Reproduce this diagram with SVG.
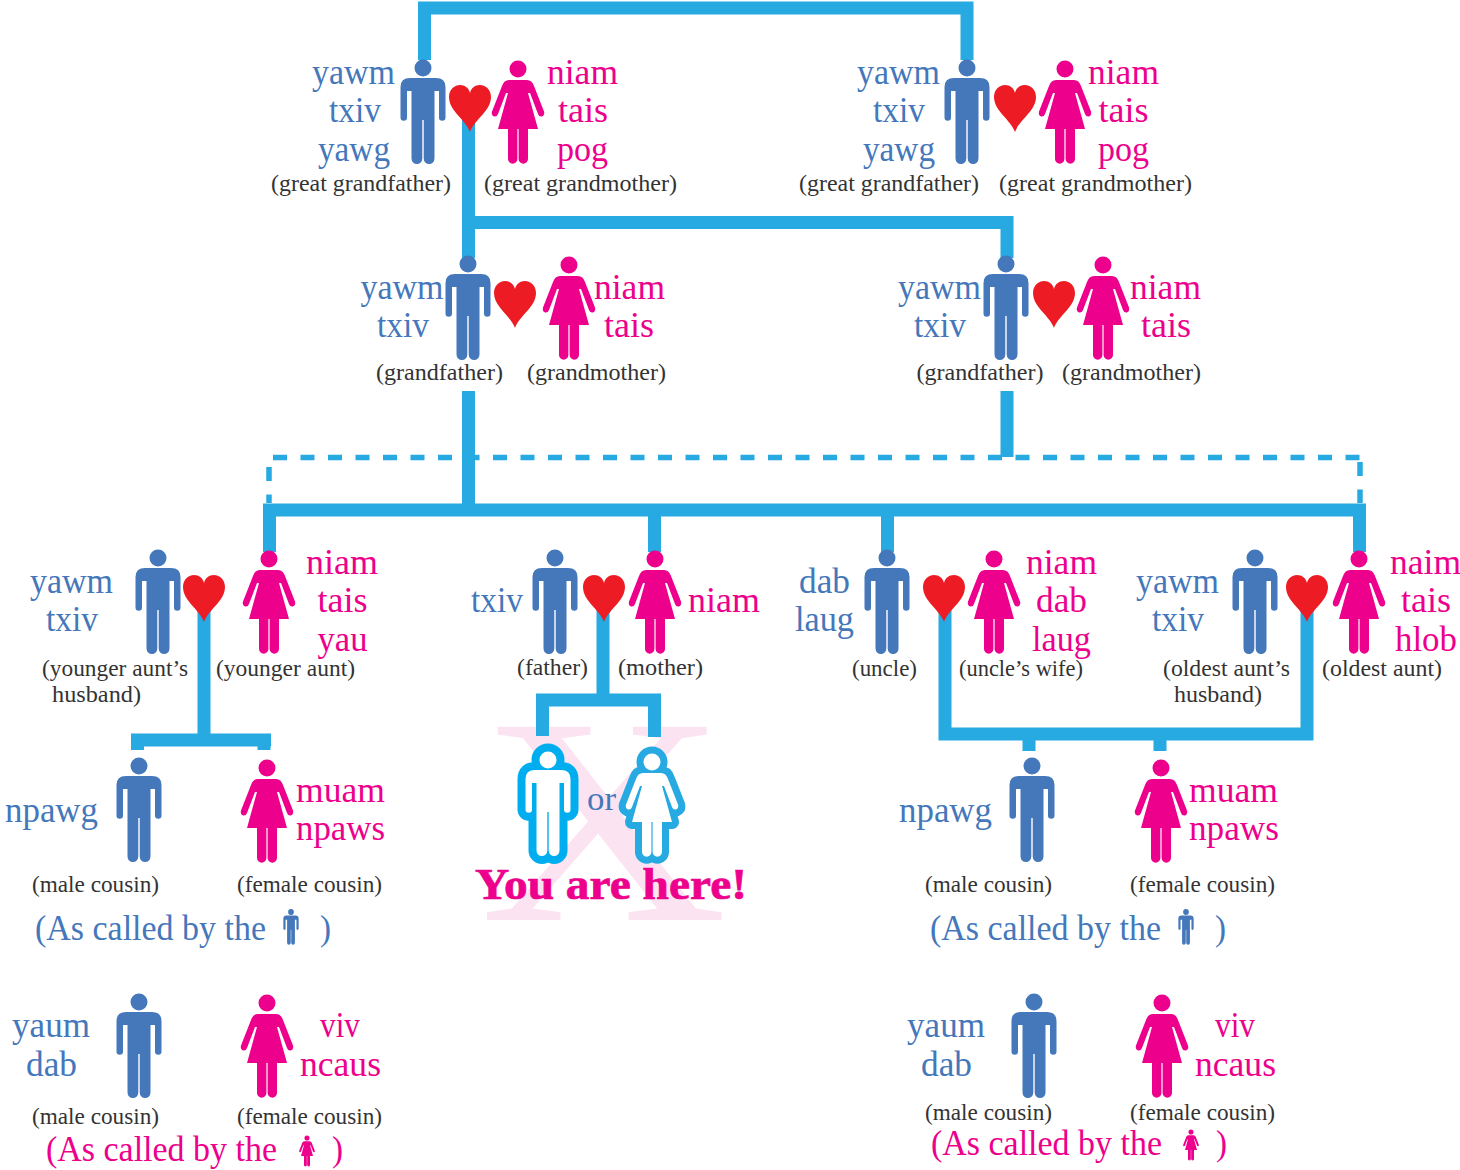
<svg xmlns="http://www.w3.org/2000/svg" width="1460" height="1170" viewBox="0 0 1460 1170">
<style>
text{font-family:"Liberation Serif","Times New Roman",serif;text-anchor:middle}
.b{fill:#4577bb;font-size:35px}
.p{fill:#ec008c;font-size:35px}
.c{fill:#333;font-size:23px}
.l{fill:none;stroke:#27aae1;stroke-width:13}
.d{fill:none;stroke:#27aae1;stroke-width:5.5;stroke-dasharray:14 13.500}
.m{fill:#4577bb}.w{fill:#ec008c}.h{fill:#ed1c24}
</style>
<defs>
<path id="man" d="M-8.500,0a8.500,8.500 0 1 0 17,0a8.500,8.500 0 1 0 -17,0ZM-13,10H13Q22.500,10 22.500,19V49.500a3.200,3.200 0 0 1 -6.500,0V23H11.500V90.600a5.400,5.400 0 0 1 -10.800,0V52H-0.700V90.600a5.400,5.400 0 0 1 -10.800,0V23H-16V49.500a3.200,3.200 0 0 1 -6.500,0V19Q-22.500,10 -13,10Z"/>
<path id="woman" d="M-8.500,0a8.500,8.500 0 1 0 17,0a8.500,8.500 0 1 0 -17,0ZM-9,11H9Q14,11 16,17L26,42.500Q27,46 24,47.500Q21,48 20,45L12,24L10,24L20,60H10V90a4.700,4.700 0 0 1 -9.400,0V60H-0.600V90a4.700,4.700 0 0 1 -9.400,0V60H-20L-10,24L-12,24L-20,45Q-21,48 -24,47.500Q-27,46 -26,42.500L-16,17Q-14,11 -9,11Z"/>
<path id="heart" d="M0,47C-4,35 -21,26 -21,12C-21,4 -15,0 -10,0C-5,0 -1,3 0,8C1,3 5,0 10,0C15,0 21,4 21,12C21,26 4,35 0,47Z"/>
</defs>
<text id="x-mark" transform="translate(603.500 920) scale(1.165 1)" font-size="295" fill="#fbe3f2">X</text>
<g id="connectors">
<path class="l" d="M424.500,60V8H967V60"/>
<path class="l" d="M468.500,110V222.500H1007V258M468.500,222V258"/>
<path class="l" d="M468.500,391V510M1007,391V457"/>
<path class="l" d="M263,510H1366M269.500,510V552M1359.500,510V552M654.500,510V552M887.500,510V552"/>
<path class="d" d="M273,457.500H1360"/>
<path class="d" d="M269,467V503M1360,462V503"/>
<path class="l" d="M204,600V740M131,740H271M137.500,740V750M264,740V750"/>
<path class="l" d="M603,600V700M536,700H661M542.500,700V736M654.500,700V737"/>
<path class="l" d="M945,600V734H1307V600M1029,734V751M1160,734V751"/>
</g>
<g id="n-ggf1"><use href="#man" class="m" x="423" y="68"/><text class="b" x="353.500" y="84" textLength="83" lengthAdjust="spacingAndGlyphs">yawm</text><text class="b" x="355" y="122" textLength="52" lengthAdjust="spacingAndGlyphs">txiv</text><text class="b" x="354" y="161" textLength="72" lengthAdjust="spacingAndGlyphs">yawg</text><text class="c" x="361" y="191" textLength="180" lengthAdjust="spacingAndGlyphs">(great grandfather)</text></g>
<g id="n-ggm1"><use href="#woman" class="w" x="518" y="69"/><text class="p" x="582.500" y="84" textLength="71" lengthAdjust="spacingAndGlyphs">niam</text><text class="p" x="583" y="122" textLength="50" lengthAdjust="spacingAndGlyphs">tais</text><text class="p" x="582.500" y="161" textLength="51" lengthAdjust="spacingAndGlyphs">pog</text><text class="c" x="580.500" y="191" textLength="193" lengthAdjust="spacingAndGlyphs">(great grandmother)</text></g>
<g id="n-ggf2"><use href="#man" class="m" x="967" y="68"/><text class="b" x="898.500" y="84" textLength="83" lengthAdjust="spacingAndGlyphs">yawm</text><text class="b" x="899" y="122" textLength="52" lengthAdjust="spacingAndGlyphs">txiv</text><text class="b" x="899" y="161" textLength="72" lengthAdjust="spacingAndGlyphs">yawg</text><text class="c" x="889" y="191" textLength="180" lengthAdjust="spacingAndGlyphs">(great grandfather)</text></g>
<g id="n-ggm2"><use href="#woman" class="w" x="1065" y="69"/><text class="p" x="1123.500" y="84" textLength="71" lengthAdjust="spacingAndGlyphs">niam</text><text class="p" x="1123.500" y="122" textLength="50" lengthAdjust="spacingAndGlyphs">tais</text><text class="p" x="1123.500" y="161" textLength="51" lengthAdjust="spacingAndGlyphs">pog</text><text class="c" x="1095.500" y="191" textLength="193" lengthAdjust="spacingAndGlyphs">(great grandmother)</text></g>
<g id="n-gf1"><use href="#man" class="m" x="468" y="264"/><text class="b" x="402" y="299" textLength="83" lengthAdjust="spacingAndGlyphs">yawm</text><text class="b" x="403" y="337" textLength="52" lengthAdjust="spacingAndGlyphs">txiv</text><text class="c" x="439.500" y="380" textLength="127" lengthAdjust="spacingAndGlyphs">(grandfather)</text></g>
<g id="n-gm1"><use href="#woman" class="w" x="569" y="265"/><text class="p" x="629.500" y="299" textLength="71" lengthAdjust="spacingAndGlyphs">niam</text><text class="p" x="629" y="337" textLength="50" lengthAdjust="spacingAndGlyphs">tais</text><text class="c" x="596.500" y="380" textLength="139" lengthAdjust="spacingAndGlyphs">(grandmother)</text></g>
<g id="n-gf2"><use href="#man" class="m" x="1006" y="264"/><text class="b" x="939.500" y="299" textLength="83" lengthAdjust="spacingAndGlyphs">yawm</text><text class="b" x="940" y="337" textLength="52" lengthAdjust="spacingAndGlyphs">txiv</text><text class="c" x="980" y="380" textLength="127" lengthAdjust="spacingAndGlyphs">(grandfather)</text></g>
<g id="n-gm2"><use href="#woman" class="w" x="1103" y="265"/><text class="p" x="1165.500" y="299" textLength="71" lengthAdjust="spacingAndGlyphs">niam</text><text class="p" x="1166" y="337" textLength="50" lengthAdjust="spacingAndGlyphs">tais</text><text class="c" x="1131.500" y="380" textLength="139" lengthAdjust="spacingAndGlyphs">(grandmother)</text></g>
<g id="n-yah"><use href="#man" class="m" x="158" y="558"/><text class="b" x="71.500" y="593" textLength="83" lengthAdjust="spacingAndGlyphs">yawm</text><text class="b" x="72" y="631" textLength="52" lengthAdjust="spacingAndGlyphs">txiv</text><text class="c" x="115" y="676" textLength="146" lengthAdjust="spacingAndGlyphs">(younger aunt’s</text><text class="c" x="96.500" y="702" textLength="89" lengthAdjust="spacingAndGlyphs">husband)</text></g>
<g id="n-ya"><use href="#woman" class="w" x="269" y="559"/><text class="p" x="342" y="574" textLength="72" lengthAdjust="spacingAndGlyphs">niam</text><text class="p" x="342.500" y="612" textLength="50" lengthAdjust="spacingAndGlyphs">tais</text><text class="p" x="342.500" y="651" textLength="50" lengthAdjust="spacingAndGlyphs">yau</text><text class="c" x="285.500" y="676" textLength="139" lengthAdjust="spacingAndGlyphs">(younger aunt)</text></g>
<g id="n-father"><use href="#man" class="m" x="555" y="558"/><text class="b" x="497" y="612" textLength="52" lengthAdjust="spacingAndGlyphs">txiv</text><text class="c" x="552.500" y="675" textLength="71" lengthAdjust="spacingAndGlyphs">(father)</text></g>
<g id="n-mother"><use href="#woman" class="w" x="655" y="559"/><text class="p" x="724" y="612" textLength="72" lengthAdjust="spacingAndGlyphs">niam</text><text class="c" x="660.500" y="675" textLength="85" lengthAdjust="spacingAndGlyphs">(mother)</text></g>
<g id="n-uncle"><use href="#man" class="m" x="887" y="558"/><text class="b" x="824.500" y="593" textLength="51" lengthAdjust="spacingAndGlyphs">dab</text><text class="b" x="824.500" y="631" textLength="59" lengthAdjust="spacingAndGlyphs">laug</text><text class="c" x="884.500" y="676" textLength="65" lengthAdjust="spacingAndGlyphs">(uncle)</text></g>
<g id="n-uw"><use href="#woman" class="w" x="994" y="559"/><text class="p" x="1061.500" y="574" textLength="71" lengthAdjust="spacingAndGlyphs">niam</text><text class="p" x="1061.500" y="612" textLength="51" lengthAdjust="spacingAndGlyphs">dab</text><text class="p" x="1061.500" y="651" textLength="59" lengthAdjust="spacingAndGlyphs">laug</text><text class="c" x="1021" y="676" textLength="124" lengthAdjust="spacingAndGlyphs">(uncle’s wife)</text></g>
<g id="n-oah"><use href="#man" class="m" x="1255" y="558"/><text class="b" x="1177.500" y="593" textLength="83" lengthAdjust="spacingAndGlyphs">yawm</text><text class="b" x="1178" y="631" textLength="52" lengthAdjust="spacingAndGlyphs">txiv</text><text class="c" x="1226.500" y="676" textLength="127" lengthAdjust="spacingAndGlyphs">(oldest aunt’s</text><text class="c" x="1218" y="702" textLength="88" lengthAdjust="spacingAndGlyphs">husband)</text></g>
<g id="n-oa"><use href="#woman" class="w" x="1359" y="559"/><text class="p" x="1425.500" y="574" textLength="71" lengthAdjust="spacingAndGlyphs">naim</text><text class="p" x="1426" y="612" textLength="50" lengthAdjust="spacingAndGlyphs">tais</text><text class="p" x="1426" y="651" textLength="62" lengthAdjust="spacingAndGlyphs">hlob</text><text class="c" x="1382" y="676" textLength="120" lengthAdjust="spacingAndGlyphs">(oldest aunt)</text></g>
<g id="hearts" class="h"><use href="#heart" x="470" y="85"/><use href="#heart" x="1015" y="85"/><use href="#heart" x="515" y="281"/><use href="#heart" x="1054" y="281"/><use href="#heart" x="204" y="575"/><use href="#heart" x="604" y="575"/><use href="#heart" x="944" y="575"/><use href="#heart" x="1307" y="575"/></g>
<g id="n-you"><use href="#man" x="548" y="760" fill="#00aeef" stroke="#00aeef" stroke-width="16" stroke-linejoin="round"/><use href="#man" x="548" y="760" fill="#fff"/><use href="#woman" x="652" y="762" fill="#27aae1" stroke="#27aae1" stroke-width="14" stroke-linejoin="round"/><use href="#woman" x="652" y="762" fill="#fff"/><text x="601.500" y="810" font-size="34" fill="#4577bb" textLength="29" lengthAdjust="spacingAndGlyphs">or</text><text x="611" y="899" font-size="44" font-weight="bold" fill="#ec008c" stroke="#ec008c" stroke-width=".7" textLength="272" lengthAdjust="spacingAndGlyphs">You are here!</text></g>
<g id="n-c1"><use href="#man" class="m" x="139" y="766"/><text class="b" x="51.500" y="822" textLength="93" lengthAdjust="spacingAndGlyphs">npawg</text><text class="c" x="95.500" y="892" textLength="127" lengthAdjust="spacingAndGlyphs">(male cousin)</text></g>
<g id="n-c2"><use href="#woman" class="w" x="267" y="768"/><text class="p" x="340.500" y="802" textLength="89" lengthAdjust="spacingAndGlyphs">muam</text><text class="p" x="340.500" y="840" textLength="89" lengthAdjust="spacingAndGlyphs">npaws</text><text class="c" x="309.500" y="892" textLength="145" lengthAdjust="spacingAndGlyphs">(female cousin)</text></g>
<g id="n-c3"><use href="#man" class="m" x="1032" y="766"/><text class="b" x="945.500" y="822" textLength="93" lengthAdjust="spacingAndGlyphs">npawg</text><text class="c" x="988.500" y="892" textLength="127" lengthAdjust="spacingAndGlyphs">(male cousin)</text></g>
<g id="n-c4"><use href="#woman" class="w" x="1161" y="768"/><text class="p" x="1233.500" y="802" textLength="89" lengthAdjust="spacingAndGlyphs">muam</text><text class="p" x="1234" y="840" textLength="90" lengthAdjust="spacingAndGlyphs">npaws</text><text class="c" x="1202.500" y="892" textLength="145" lengthAdjust="spacingAndGlyphs">(female cousin)</text></g>
<g id="n-c5"><use href="#man" class="m" x="139" y="1002"/><text class="b" x="51" y="1037" textLength="78" lengthAdjust="spacingAndGlyphs">yaum</text><text class="b" x="51.500" y="1076" textLength="51" lengthAdjust="spacingAndGlyphs">dab</text><text class="c" x="95.500" y="1124" textLength="127" lengthAdjust="spacingAndGlyphs">(male cousin)</text></g>
<g id="n-c6"><use href="#woman" class="w" x="267" y="1003"/><text class="p" x="340" y="1037" textLength="40" lengthAdjust="spacingAndGlyphs">viv</text><text class="p" x="340.500" y="1076" textLength="81" lengthAdjust="spacingAndGlyphs">ncaus</text><text class="c" x="309.500" y="1124" textLength="145" lengthAdjust="spacingAndGlyphs">(female cousin)</text></g>
<g id="n-c7"><use href="#man" class="m" x="1034" y="1002"/><text class="b" x="946" y="1037" textLength="78" lengthAdjust="spacingAndGlyphs">yaum</text><text class="b" x="946.500" y="1076" textLength="51" lengthAdjust="spacingAndGlyphs">dab</text><text class="c" x="988.500" y="1120" textLength="127" lengthAdjust="spacingAndGlyphs">(male cousin)</text></g>
<g id="n-c8"><use href="#woman" class="w" x="1162" y="1003"/><text class="p" x="1235" y="1037" textLength="40" lengthAdjust="spacingAndGlyphs">viv</text><text class="p" x="1235.500" y="1076" textLength="81" lengthAdjust="spacingAndGlyphs">ncaus</text><text class="c" x="1202.500" y="1120" textLength="145" lengthAdjust="spacingAndGlyphs">(female cousin)</text></g>
<g id="n-note1"><text class="b" x="150.500" y="940" textLength="231" lengthAdjust="spacingAndGlyphs">(As called by the</text><use href="#man" class="m" transform="translate(291 912) scale(.34)"/><text class="b" x="325.500" y="940" textLength="11" lengthAdjust="spacingAndGlyphs">)</text></g>
<g id="n-note2"><text class="b" x="1045.500" y="940" textLength="231" lengthAdjust="spacingAndGlyphs">(As called by the</text><use href="#man" class="m" transform="translate(1186 912) scale(.34)"/><text class="b" x="1220.500" y="940" textLength="11" lengthAdjust="spacingAndGlyphs">)</text></g>
<g id="n-note3"><text class="p" x="161.500" y="1161" textLength="231" lengthAdjust="spacingAndGlyphs">(As called by the</text><use href="#woman" class="w" transform="translate(307 1138) scale(.3)"/><text class="p" x="337.500" y="1161" textLength="11" lengthAdjust="spacingAndGlyphs">)</text></g>
<g id="n-note4"><text class="p" x="1046.500" y="1155" textLength="231" lengthAdjust="spacingAndGlyphs">(As called by the</text><use href="#woman" class="w" transform="translate(1191 1132) scale(.3)"/><text class="p" x="1221.500" y="1155" textLength="11" lengthAdjust="spacingAndGlyphs">)</text></g>
</svg>
